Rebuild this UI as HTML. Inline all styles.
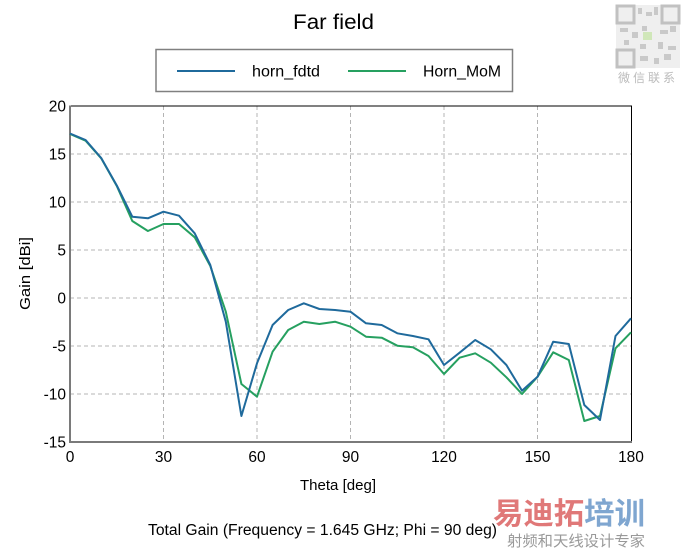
<!DOCTYPE html>
<html><head><meta charset="utf-8"><style>
html,body{margin:0;padding:0;background:#fff;}
body{width:686px;height:551px;overflow:hidden;position:relative;font-family:"Liberation Sans",Arial,sans-serif;}
svg{position:absolute;left:0;top:0;}
</style></head><body>
<svg width="686" height="551" viewBox="0 0 686 551" xmlns="http://www.w3.org/2000/svg" font-family="Liberation Sans, Arial, sans-serif">
<rect width="686" height="551" fill="#fff"/>
<!-- title -->
<text x="293" y="29" font-size="21" fill="#000" textLength="81" lengthAdjust="spacingAndGlyphs">Far field</text>
<!-- legend -->
<rect x="156" y="49.5" width="356.5" height="42" fill="#fff" stroke="#808080" stroke-width="1.5"/>
<line x1="177" y1="71" x2="235" y2="71" stroke="#1f6a9c" stroke-width="2"/>
<text x="252" y="76.5" font-size="15.5" fill="#000" textLength="68" lengthAdjust="spacingAndGlyphs">horn_fdtd</text>
<line x1="348" y1="71" x2="406" y2="71" stroke="#26a060" stroke-width="2"/>
<text x="423" y="76.5" font-size="15.5" fill="#000" textLength="78" lengthAdjust="spacingAndGlyphs">Horn_MoM</text>
<!-- grid -->
<g stroke="#b4b4b4" stroke-width="1" stroke-dasharray="4,3">
<line x1="70" y1="154" x2="631" y2="154"/>
<line x1="70" y1="202" x2="631" y2="202"/>
<line x1="70" y1="250" x2="631" y2="250"/>
<line x1="70" y1="298" x2="631" y2="298"/>
<line x1="70" y1="346" x2="631" y2="346"/>
<line x1="70" y1="394" x2="631" y2="394"/>
<line x1="163.5" y1="106" x2="163.5" y2="441"/>
<line x1="257" y1="106" x2="257" y2="441"/>
<line x1="350.5" y1="106" x2="350.5" y2="441"/>
<line x1="444" y1="106" x2="444" y2="441"/>
<line x1="537.5" y1="106" x2="537.5" y2="441"/>
</g>
<!-- frame -->
<line x1="70" y1="106" x2="632" y2="106" stroke="#000" stroke-width="1"/>
<line x1="631.5" y1="106" x2="631.5" y2="442" stroke="#000" stroke-width="1"/>
<line x1="70" y1="105.5" x2="70" y2="443" stroke="#7a7a7a" stroke-width="2"/>
<line x1="69" y1="442" x2="632" y2="442" stroke="#7a7a7a" stroke-width="2"/>
<!-- y tick labels -->
<g font-size="15.5" fill="#000" text-anchor="end">
<text x="66" y="111.5">20</text>
<text x="66" y="159.5">15</text>
<text x="66" y="207.5">10</text>
<text x="66" y="255.5">5</text>
<text x="66" y="303.5">0</text>
<text x="66" y="351.5">-5</text>
<text x="66" y="399.5">-10</text>
<text x="66" y="447.5">-15</text>
</g>
<!-- x tick labels -->
<g font-size="15.5" fill="#000" text-anchor="middle">
<text x="70" y="462">0</text>
<text x="163.5" y="462">30</text>
<text x="257" y="462">60</text>
<text x="350.5" y="462">90</text>
<text x="444" y="462">120</text>
<text x="537.5" y="462">150</text>
<text x="631" y="462">180</text>
</g>
<text x="300" y="490" font-size="14.5" fill="#000" textLength="76" lengthAdjust="spacingAndGlyphs">Theta [deg]</text>
<text transform="translate(30,310) rotate(-90)" font-size="14.5" fill="#000" textLength="73" lengthAdjust="spacingAndGlyphs">Gain [dBi]</text>
<text x="148" y="535" font-size="15.5" fill="#000" textLength="349" lengthAdjust="spacingAndGlyphs">Total Gain (Frequency = 1.645 GHz; Phi = 90 deg)</text>
<!-- series -->
<polyline fill="none" stroke="#26a060" stroke-width="2" stroke-linejoin="round" points="70,134 85.6,140.7 101.2,158.3 116.8,186 132.3,221 147.9,231 163.5,224 179,224 194.7,237.3 210.3,266 225.8,311.7 241.4,384 257,396.7 272.6,351.7 288.2,330 303.8,321.7 319.4,324 335,321.7 350.5,326.7 366,336.7 381.7,337.7 397.3,345.7 412.9,347.3 428.5,356 444,374 459.6,357.7 475.2,353.3 490.8,362.7 506.4,377.3 522,394 537.6,376.7 553.2,352.3 568.8,360 584.3,421 600,416 615.5,348.3 631,332.3"/>
<polyline fill="none" stroke="#1f6a9c" stroke-width="2" stroke-linejoin="round" points="70,133.5 85.6,140 101.2,158 116.8,185.5 132.3,216.7 147.9,218.3 163.5,211.7 179,215.7 194.7,233.3 210.3,265 225.8,321.7 241.4,416 257,363.3 272.6,325 288.2,310 303.8,303.3 319.4,309 335,310 350.5,311.7 366,323.3 381.7,325 397.3,333.3 412.9,336 428.5,339.3 444,365 459.6,352.7 475.2,340 490.8,349.3 506.4,365 522,390.7 537.6,376.7 553.2,341.7 568.8,344 584.3,405 600,420 615.5,336 631,318.3"/>
<!-- watermark QR -->
<g opacity="0.45">
<rect x="616" y="5" width="64" height="63" fill="#ddd"/>
<rect x="617" y="6" width="17" height="17" fill="none" stroke="#777" stroke-width="3"/>
<rect x="662" y="6" width="17" height="17" fill="none" stroke="#777" stroke-width="3"/>
<rect x="617" y="50" width="17" height="17" fill="none" stroke="#777" stroke-width="3"/>
<g fill="#888">
<rect x="638" y="8" width="4" height="6"/><rect x="646" y="12" width="6" height="4"/><rect x="654" y="7" width="4" height="8"/>
<rect x="620" y="28" width="8" height="4"/><rect x="632" y="32" width="6" height="6"/><rect x="642" y="26" width="5" height="5"/>
<rect x="660" y="30" width="8" height="4"/><rect x="670" y="26" width="6" height="6"/><rect x="624" y="40" width="5" height="5"/>
<rect x="640" y="44" width="6" height="5"/><rect x="658" y="42" width="5" height="7"/><rect x="668" y="46" width="8" height="4"/>
<rect x="640" y="56" width="8" height="5"/><rect x="654" y="58" width="5" height="6"/><rect x="664" y="54" width="7" height="6"/>
</g>
<rect x="643" y="32" width="9" height="8" fill="#9c6"/>
</g>
<text x="648" y="82" font-size="12" text-anchor="middle" fill="#bbb" font-family="Liberation Sans, Noto Sans CJK SC, sans-serif" letter-spacing="3">微信联系</text>
<!-- watermark bottom -->
<text x="493" y="524" font-size="30" font-weight="bold" fill="#e07878" font-family="Liberation Sans, Noto Sans CJK SC, sans-serif" textLength="152" lengthAdjust="spacingAndGlyphs">易迪拓<tspan fill="#7fa6d0">培训</tspan></text>
<text x="507" y="546" font-size="15" fill="#999" font-family="Liberation Sans, Noto Sans CJK SC, sans-serif" textLength="138" lengthAdjust="spacingAndGlyphs">射频和天线设计专家</text>
</svg>
</body></html>
